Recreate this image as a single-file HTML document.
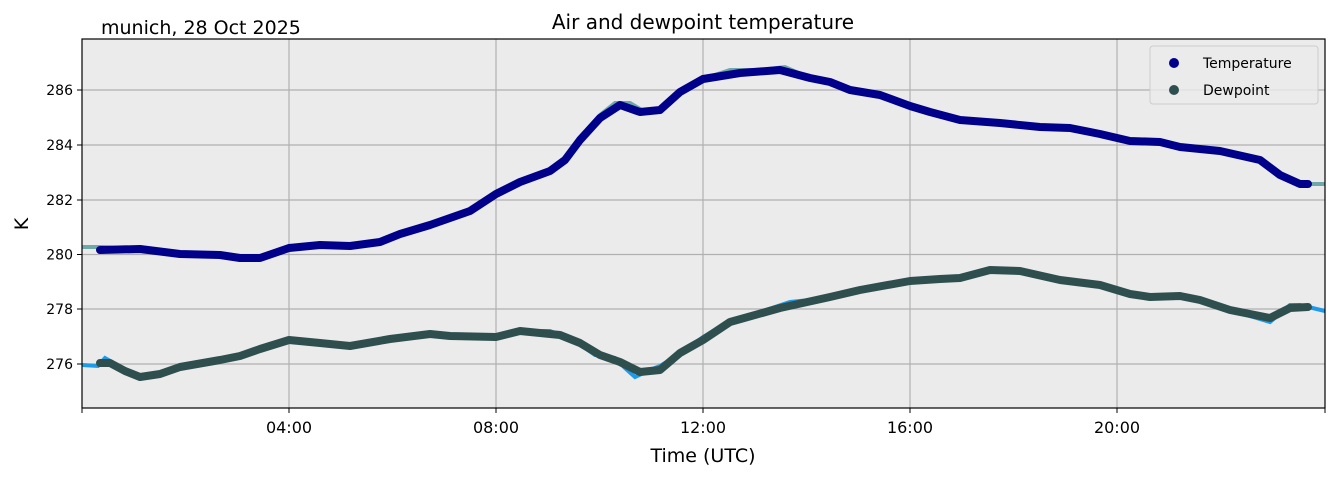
<!DOCTYPE html>
<html><head><style>
body{margin:0;background:#fff;font-family:"DejaVu Sans","Liberation Sans",sans-serif;}
</style></head><body>
<svg width="1335" height="478" xmlns="http://www.w3.org/2000/svg" font-family="DejaVu Sans, Liberation Sans, sans-serif">
<rect x="82" y="39" width="1243" height="369" fill="#ebebeb"/>
<g stroke="#b0b0b0" stroke-width="1.2">
<line x1="289" y1="39" x2="289" y2="408"/><line x1="496" y1="39" x2="496" y2="408"/><line x1="703" y1="39" x2="703" y2="408"/><line x1="910" y1="39" x2="910" y2="408"/><line x1="1117" y1="39" x2="1117" y2="408"/>
<line x1="82" y1="90" x2="1325" y2="90"/><line x1="82" y1="145" x2="1325" y2="145"/><line x1="82" y1="200" x2="1325" y2="200"/><line x1="82" y1="254.5" x2="1325" y2="254.5"/><line x1="82" y1="309" x2="1325" y2="309"/><line x1="82" y1="364" x2="1325" y2="364"/>
</g>
<polyline fill="none" stroke="#6fa8a8" stroke-width="4" points="82,247 100,247 140,249 180,254 220,255 240,258 260,258 289,248 320,245 350,246 380,242 400,234 430,225 470,211 496,194 520,182 550,171 565,160 580,140 600,115 615,103 630,103 645,112 660,112 680,92 703,79 730,70 760,70 785,67 810,78 830,82 850,90 880,95 910,106 930,112 960,120 1000,123 1040,127 1070,128 1100,134 1130,141 1160,142 1180,147 1220,151 1260,160 1280,175 1300,184 1325,184"/>
<polyline fill="none" stroke="#1e9be8" stroke-width="4" points="82,365 98,366 105,358 112,362 125,371 140,378 160,375 180,367 220,360 240,356 260,349 289,340 320,343 350,346 390,339 430,334 450,336 496,337 520,331 550,331 575,341 595,355 615,358 625,368 635,377 650,370 660,366 680,354 703,337 730,321 760,312 790,302 830,298 860,290 910,281 940,279 960,278 990,270 1020,271 1060,280 1100,284 1130,294 1150,297 1180,296 1200,300 1230,310 1270,322 1290,305 1300,305 1325,311"/>
<polyline fill="none" stroke="#00008b" stroke-width="8" stroke-linejoin="round" stroke-linecap="round" points="100,250 140,249 180,254 220,255 240,258 260,258 289,248 320,245 350,246 380,242 400,234 430,225 470,211 496,194 520,182 550,171 565,160 580,140 600,118 620,105 640,112 660,110 680,92 703,79 740,73 780,70 810,78 830,82 850,90 880,95 910,106 930,112 960,120 1000,123 1040,127 1070,128 1100,134 1130,141 1160,142 1180,147 1220,151 1260,160 1280,175 1300,184 1308,184"/>
<polyline fill="none" stroke="#2f4f4f" stroke-width="8" stroke-linejoin="round" stroke-linecap="round" points="100,363 110,363 125,371 140,377 160,374 180,367 220,360 240,356 260,349 289,340 320,343 350,346 390,339 430,334 450,336 496,337 520,331 560,335 580,343 600,355 620,362 640,372 660,370 680,353 703,340 730,322 780,308 830,297 860,290 910,281 940,279 960,278 990,270 1020,271 1060,280 1100,285 1130,294 1150,297 1180,296 1200,300 1230,310 1270,318 1290,308 1308,307"/>
<rect x="82" y="39" width="1243" height="369" fill="none" stroke="#000" stroke-width="1.2"/>
<g stroke="#000" stroke-width="1">
<line x1="82" y1="408" x2="82" y2="413"/><line x1="289" y1="408" x2="289" y2="413"/><line x1="496" y1="408" x2="496" y2="413"/><line x1="703" y1="408" x2="703" y2="413"/><line x1="910" y1="408" x2="910" y2="413"/><line x1="1117" y1="408" x2="1117" y2="413"/><line x1="1325" y1="408" x2="1325" y2="413"/>
<line x1="77" y1="90" x2="82" y2="90"/><line x1="77" y1="145" x2="82" y2="145"/><line x1="77" y1="200" x2="82" y2="200"/><line x1="77" y1="254.5" x2="82" y2="254.5"/><line x1="77" y1="309" x2="82" y2="309"/><line x1="77" y1="364" x2="82" y2="364"/>
</g>
<g font-size="14" text-anchor="end">
<text x="73" y="95">286</text><text x="73" y="150">284</text><text x="73" y="205">282</text><text x="73" y="259.5">280</text><text x="73" y="314">278</text><text x="73" y="369">276</text>
</g>
<g font-size="16" text-anchor="middle">
<text x="289" y="433">04:00</text><text x="496" y="433">08:00</text><text x="703" y="433">12:00</text><text x="910" y="433">16:00</text><text x="1117" y="433">20:00</text>
<text x="703" y="462" font-size="19">Time (UTC)</text>
<text x="703" y="29" font-size="20">Air and dewpoint temperature</text>
</g>
<text x="101" y="34" font-size="19">munich, 28 Oct 2025</text>
<text x="28" y="224" font-size="19" text-anchor="middle" transform="rotate(-90 28 224)">K</text>
<rect x="1150" y="46" width="168" height="58" rx="3" fill="#ebebeb" fill-opacity="0.8" stroke="#ccc"/>
<circle cx="1174" cy="63" r="5" fill="#00008b"/><circle cx="1174" cy="90" r="5" fill="#2f4f4f"/>
<text x="1203" y="68" font-size="14">Temperature</text><text x="1203" y="95" font-size="14">Dewpoint</text>
</svg>
</body></html>
